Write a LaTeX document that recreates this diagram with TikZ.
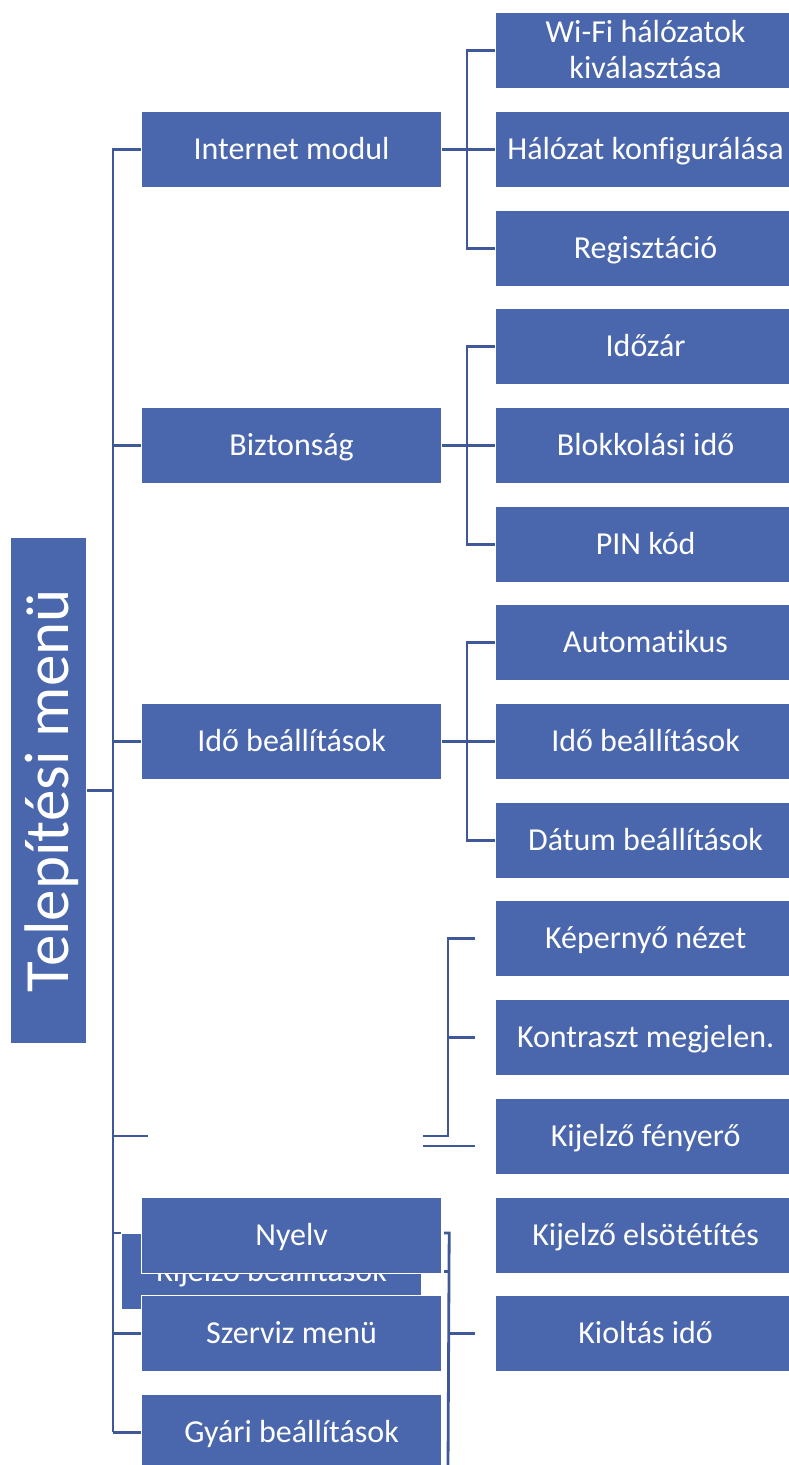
\documentclass[tikz,border=0pt]{standalone}
\usepackage{fontspec}
\setmainfont{Carlito}[Ligatures=NoCommon]
\usetikzlibrary{backgrounds}
\definecolor{boxblue}{RGB}{74,102,172}
\definecolor{lineblue}{RGB}{62,88,152}
\begin{document}
\begin{tikzpicture}[x=1pt,y=-1pt,
  box/.style={draw=white, line width=1.2pt, fill=boxblue, text=white,
    minimum width=300pt, minimum height=76pt, inner sep=0pt,
    font=\fontsize{32}{36}\selectfont, align=center, anchor=north west,
    text height=20.6pt, text depth=0pt},
  conn/.style={draw=lineblue, line width=2.8pt}]
\useasboundingbox (0,0) rectangle (788,1465);

% root
\node[box, minimum width=76pt, minimum height=506pt] (root) at (10,537) {};
\node[rotate=90, text=white, inner sep=0pt, font=\fontsize{63}{70}\selectfont,
  text height=40.6pt, text depth=0pt] (roottext) at (root.center) {Telepítési menü};

% level 1
\node[box] (inet) at (141,111) {Internet modul};
\node[box] (bizt) at (141,407) {Biztonság};
\node[box] (ido) at (141,703) {Idő beállítások};
\node[box] (kijb) at (121,1233) {Kijelző beállítások};
\node[box] (nyelv) at (141,1197) {Nyelv};
\node[box] (szerv) at (141,1295) {Szerviz menü};
\node[box] (gyari) at (141,1394) {Gyári beállítások};

% level 2
\node[box, text height=56.6pt] (wifi) at (495,12) {Wi-Fi hálózatok\\kiválasztása};
\node[box] (halo) at (495,111) {Hálózat konfigurálása};
\node[box] (regi) at (495,210) {Regisztáció};
\node[box] (idozar) at (495,308) {Időzár};
\node[box] (blokk) at (495,407) {Blokkolási idő};
\node[box] (pin) at (495,506) {PIN kód};
\node[box] (auto) at (495,604) {Automatikus};
\node[box] (idob) at (495,703) {Idő beállítások};
\node[box] (datum) at (495,802) {Dátum beállítások};
\node[box] (kep) at (495,900) {Képernyő nézet};
\node[box] (kontr) at (495,999) {Kontraszt megjelen.};
\node[box] (feny) at (495,1098) {Kijelző fényerő};
\node[box] (elsot) at (495,1197) {Kijelző elsötétítés};
\node[box] (kiolt) at (495,1295) {Kioltás idő};

% free coordinates
\coordinate (trunkTop) at (113,148);
\coordinate (trunkBot) at (113,1432);
\coordinate (kijL) at (148,1136);
\coordinate (kijR) at (423,1136);
\coordinate (kijR2) at (423,1146);
\coordinate (nyBot) at (448,1470);

\begin{pgfonlayer}{background}
  \draw[conn] (trunkTop) -- (trunkBot);
  \draw[conn] (root.east) -- (root.east -| trunkTop);
  \foreach \n in {inet,bizt,ido,szerv,gyari}
    \draw[conn] (\n.west) -- (\n.west -| trunkTop);
  \draw[conn] (kijL -| trunkTop) -- (kijL);
  \draw[conn] (kijb.north west -| trunkTop) -- (kijb.north west);
  % internet modul
  \draw[conn] (wifi.west) -- ++(-28,0) |- (regi.west);
  \draw[conn] (inet.east) -- (halo.west);
  % biztonsag
  \draw[conn] (idozar.west) -- ++(-28,0) |- (pin.west);
  \draw[conn] (bizt.east) -- (blokk.west);
  % ido
  \draw[conn] (auto.west) -- ++(-28,0) |- (datum.west);
  \draw[conn] (ido.east) -- (idob.west);
  % kijelzo
  \draw[conn] ([xshift=-20pt]kep.west) -- ([xshift=-47pt]kep.west) |- (kijR);
  \draw[conn] ([xshift=-20pt]kontr.west) -- ([xshift=-47pt]kontr.west);
  \draw[conn] (kijR2) -- ([xshift=-20pt]kijR2 -| feny.west);
  % nyelv bracket
  \draw[conn] ([xshift=2pt]nyelv.east |- kijb.north) -- ([xshift=7pt]nyelv.east |- kijb.north) -- (nyBot);
  \draw[conn] ([xshift=2pt]nyelv.east |- kijb.center) -- ([xshift=8pt]nyelv.east |- kijb.center);
  \draw[conn] (nyBot |- kiolt.west) -- ([xshift=-20pt]kiolt.west);
\end{pgfonlayer}
\end{tikzpicture}
\end{document}
